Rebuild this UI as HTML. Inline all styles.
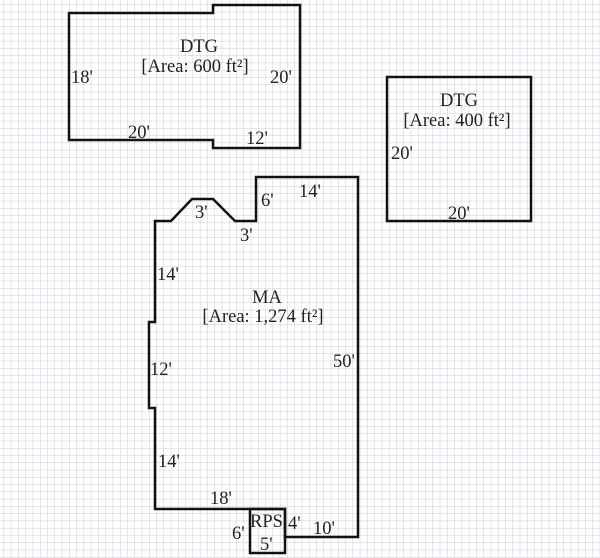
<!DOCTYPE html>
<html><head><style>
html,body{margin:0;padding:0;background:#fff;}
svg{display:block;}
text{font-family:"Liberation Serif",serif;font-size:18.5px;fill:#222;}
</style></head><body>
<svg width="600" height="558" viewBox="0 0 600 558" xmlns="http://www.w3.org/2000/svg">
<defs>
<pattern id="g" x="3.6" y="4.5" width="7.27" height="7.27" patternUnits="userSpaceOnUse">
<path d="M0 0H7.27M0 0V7.27" stroke="#c9cad9" stroke-width="1" fill="none"/>
</pattern>
</defs>
<rect width="600" height="558" fill="#fff"/>
<rect width="600" height="558" fill="url(#g)"/>
<g fill="none" stroke="#111" stroke-width="2.5" stroke-linejoin="miter">
<path d="M69 13H213V5H300V148H213V140H69Z"/>
<path d="M387 77H531V221H387Z"/>
<path d="M155 221H171L192 199H213L235 221H256V177H358V537H285V509H155V408H149V322H155Z"/>
<path d="M250 509H285V553H250Z"/>
</g>
<text x="199" y="52" text-anchor="middle">DTG</text>
<text x="195" y="72" text-anchor="middle">[Area: 600 ft²]</text>
<text x="71" y="83">18'</text>
<text x="270" y="83">20'</text>
<text x="128" y="138">20'</text>
<text x="246" y="144">12'</text>
<text x="459" y="106" text-anchor="middle">DTG</text>
<text x="457" y="126" text-anchor="middle">[Area: 400 ft²]</text>
<text x="391" y="159">20'</text>
<text x="448" y="219">20'</text>
<text x="195" y="218">3'</text>
<text x="240" y="241">3'</text>
<text x="261" y="206">6'</text>
<text x="299" y="197">14'</text>
<text x="157" y="280">14'</text>
<text x="267" y="303" text-anchor="middle">MA</text>
<text x="263" y="322" text-anchor="middle">[Area: 1,274 ft²]</text>
<text x="333" y="367">50'</text>
<text x="150" y="375">12'</text>
<text x="158" y="467">14'</text>
<text x="210" y="504">18'</text>
<text x="250" y="527">RPS</text>
<text x="232" y="539">6'</text>
<text x="288" y="529">4'</text>
<text x="313" y="534">10'</text>
<text x="260" y="550">5'</text>
</svg>
</body></html>
